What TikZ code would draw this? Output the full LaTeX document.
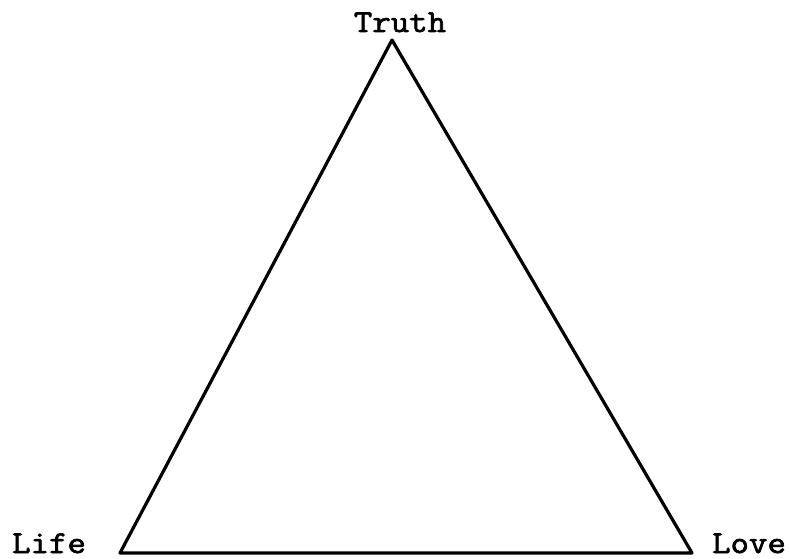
\documentclass[tikz,border=0pt]{standalone}
\usepackage{fontspec}
\newfontfamily\typewriter{Latin Modern Mono}[FakeBold=2.2,FakeStretch=1.12]
\begin{document}
\begin{tikzpicture}[x=1pt,y=-1pt,
  lbl/.style={font=\typewriter\fontsize{32}{32}\selectfont, inner sep=0pt, anchor=base},
  edge/.style={line width=3.2pt, line join=round}]
\useasboundingbox (0,0) rectangle (790,559);
\coordinate (T) at (392,40);
\coordinate (L) at (120,553);
\coordinate (R) at (692,553);
\draw[edge] (T) -- (L) -- (R) -- cycle;
\node[lbl] (truth) at (400,32) {Truth};
\node[lbl] (life) at (49,553) {Life};
\node[lbl] (love) at (749,553) {Love};
\end{tikzpicture}
\end{document}
